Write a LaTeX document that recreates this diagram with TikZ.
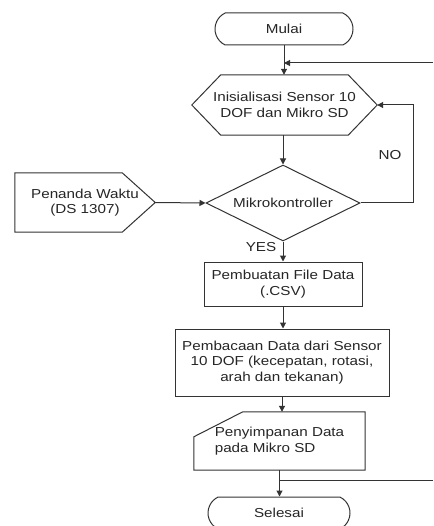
\documentclass[tikz,border=0pt]{standalone}
\usepackage{fontspec}
\setmainfont{Liberation Sans}[FakeStretch=1.17]
\usetikzlibrary{shapes.misc,shapes.geometric,arrows.meta,calc}
\tikzset{
  lin/.style={draw=black!80, line width=1pt},
  arr/.style={lin, -{Triangle[length=6pt,width=6pt]}},
  txt/.style={font=\fontsize{13}{15.5}\selectfont, text=black!85, align=center, inner sep=0pt},
  term/.style={txt, lin, rounded rectangle, rounded rectangle arc length=130},
  holder/.style={txt, rectangle},
  boxx/.style={txt, lin, rectangle},
  dia/.style={txt, lin, diamond, aspect=2},
  lbl/.style={font=\fontsize{13}{15.5}\selectfont, text=black!85, inner sep=0pt}
}
\begin{document}
\begin{tikzpicture}[x=1pt,y=-1pt]
\useasboundingbox[fill=white] (0,0) rectangle (433,526);

% nodes
\node[term, minimum width=138pt, minimum height=32pt] (mulai) at (284,29) {Mulai};
\node[holder, minimum width=185pt, minimum height=60pt] (init) at (284.5,105) {Inisialisasi Sensor 10\\DOF dan Mikro SD};
\draw[lin] (init.west) -- ([xshift=29pt]init.north west) -- ([xshift=-29pt]init.north east) -- (init.east)
  -- ([xshift=-29pt]init.south east) -- ([xshift=29pt]init.south west) -- cycle;
\node[dia, minimum width=154pt, minimum height=76pt] (mk) at (283,203) {Mikrokontroller};
\node[holder, minimum width=140pt, minimum height=59pt] (rtc) at (85,202.5) {Penanda Waktu\\(DS 1307)};
\draw[lin] (rtc.north west) -- ([xshift=-33pt]rtc.north east) -- (rtc.east)
  -- ([xshift=-33pt]rtc.south east) -- (rtc.south west) -- cycle;
\node[boxx, minimum width=158pt, minimum height=44pt] (csv) at (283,284) {Pembuatan File Data\\(.CSV)};
\node[boxx, minimum width=214pt, minimum height=67pt] (baca) at (282,362.5) {Pembacaan Data dari Sensor\\10 DOF (kecepatan, rotasi,\\arah dan tekanan)};
\node[holder, align=left, minimum width=171pt, minimum height=58pt] (simpan) at (279.5,441) {Penyimpanan Data\\pada Mikro SD};
\draw[lin] ([yshift=-25pt]simpan.north west) -- ([xshift=49pt]simpan.north west) -- (simpan.north east)
  -- (simpan.south east) -- (simpan.south west) -- cycle;
\node[term, minimum width=142pt, minimum height=32pt] (selesai) at (279,513) {Selesai};

\node[lbl] (no) at (390,155) {NO};
\node[lbl] (yes) at (261,247) {YES};

% connectors
\coordinate (r1) at (433,63);
\coordinate (lp) at (413,105);
\coordinate (r2) at (433,480);
\draw[arr] (mulai.south) -- (mulai.south |- init.north);
\draw[arr] (r1) -- (mulai.south |- r1);
\draw[arr] (init.south -| mk.north) -- (mk.north);
\draw[arr] (rtc.east) -- (mk.west);
\draw[arr] (mk.east) -| (lp) -- (init.east);
\draw[arr] (mk.south) -- (mk.south |- csv.north);
\draw[arr] (csv.south) -- (csv.south |- baca.north);
\draw[arr] (baca.south) -- (baca.south |- simpan.north);
\draw[arr] (simpan.south) -- (simpan.south |- selesai.north);
\draw[lin] (simpan.south |- r2) -- (r2);
\end{tikzpicture}
\end{document}
